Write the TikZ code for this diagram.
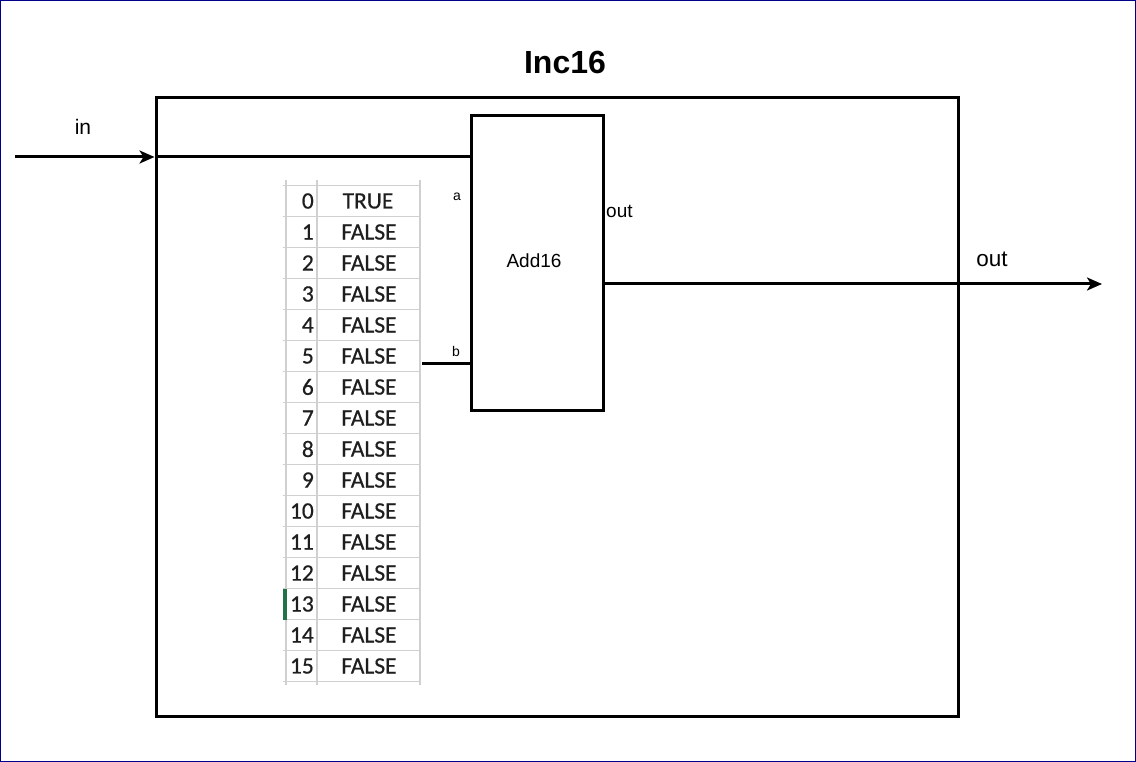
\documentclass[tikz,border=0pt]{standalone}
\usepackage{fontspec}
\setmainfont{Liberation Sans}
\newfontfamily\tblfont[FakeBold=0.6]{Carlito}
\usetikzlibrary{arrows.meta}
\definecolor{frameblue}{RGB}{0,0,140}
\definecolor{gridgray}{RGB}{208,208,208}
\definecolor{selgreen}{RGB}{33,115,70}
\definecolor{celltext}{RGB}{30,30,30}
\begin{document}
\begin{tikzpicture}[x=1pt,y=-1pt,
  thickline/.style={line width=3pt},
  arr/.style={thickline,-{Stealth[length=15pt,width=13pt,inset=4pt]}},
  block/.style={draw,line width=3pt,inner sep=0pt},
  lbl/.style={inner sep=0pt,font=\fontsize{21}{24}\selectfont},
  smalllbl/.style={inner sep=0pt,font=\fontsize{14}{16}\selectfont},
  midlbl/.style={inner sep=0pt,font=\fontsize{19}{22}\selectfont},
  cell/.style={inner sep=0pt,text=celltext,font=\tblfont\fontsize{23.5}{26}\selectfont},
  grid/.style={draw=gridgray,line width=1.5pt}
]
\useasboundingbox (0,0) rectangle (1136,762);
\draw[frameblue,line width=1.2pt] (0.6,0.6) rectangle (1135.4,761.4);

% title
\node[inner sep=0pt,font=\bfseries\fontsize{32}{38}\selectfont] (title) at (565,62) {Inc16};

% boxes
\node[block,minimum width=802pt,minimum height=618pt] (outer) at (557,407) {};
\node[block,minimum width=132pt,minimum height=294pt] (add) at (537,263) {};
\node[midlbl] (addtxt) at (534,261) {Add16};

% labels
\node[lbl] (inlbl) at (83,127) {in};
\node[lbl,font=\fontsize{22.5}{26}\selectfont] (outlbl) at (992,259) {out};
\node[smalllbl] (alb) at (457,197) {a};
\node[smalllbl] (blb) at (456,351) {b};
\node[midlbl,anchor=west] (aoutlb) at (606,211) {out};

% connectors
\coordinate (inStart) at (15,157);
\coordinate (outEnd) at (1102,284);
\coordinate (bStart) at (422,363);
\draw[arr] (inStart) -- (inStart -| outer.west);
\draw[thickline] (inStart -| outer.west) -- (inStart -| add.west);
\draw[thickline] (bStart) -- (bStart -| add.west);
\draw[arr] (outEnd -| add.east) -- (outEnd);

% table
\foreach \k in {0,...,16} {
  \draw[grid] (283,185.5+31*\k) -- (420,185.5+31*\k);
}
\draw[grid] (286,180) -- (286,685);
\draw[grid] (317,180) -- (317,685);
\draw[grid] (420,180) -- (420,685);
\fill[selgreen] (283,589) rectangle (286.5,620);
\foreach \k in {0,...,15} {
  \node[cell,anchor=east] (n\k) at (314,201+31*\k) {\k};
}
\node[cell] (v0) at (368,201) {TRUE};
\foreach \k in {1,...,15} {
  \node[cell] (v\k) at (369,201+31*\k) {FALSE};
}
\end{tikzpicture}
\end{document}
